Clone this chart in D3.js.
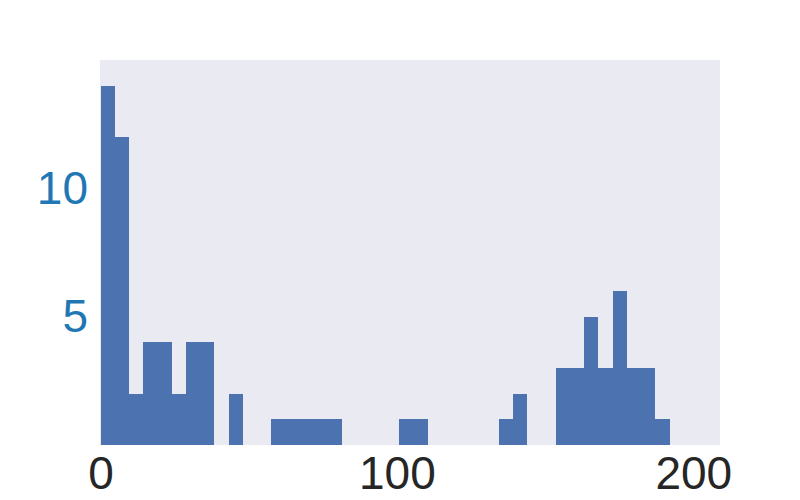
<!DOCTYPE html>
<html>
<head>
<meta charset="utf-8">
<script src="https://cdn.jsdelivr.net/npm/d3@7"></script>
<style>
  body { margin: 0; background: #fff; }
  svg { display: block; }
</style>
</head>
<body>
<div id="chart"></div>
<script>
// histogram bins (lower edges + last upper edge) and counts per bin
var binEdges = [0, 4.8, 9.6, 14.4, 19.2, 24, 28.8, 33.6, 38.4, 43.2, 48, 52.8, 57.6, 62.4,
    67.2, 72, 76.8, 81.6, 86.4, 91.2, 96, 100.8, 105.6, 110.4, 115.2, 120, 124.8, 129.6,
    134.4, 139.2, 144, 148.8, 153.6, 158.4, 163.2, 168, 172.8, 177.6, 182.4, 187.2, 192];
var binCounts = [14, 12, 2, 4, 4, 2, 4, 4, 0, 2, 0, 0, 1, 1, 1, 1, 1, 0, 0, 0,
    0, 1, 1, 0, 0, 0, 0, 0, 1, 2, 0, 0, 3, 3, 5, 3, 6, 3, 3, 1];
var xTicks = [0, 100, 200];
var yTicks = [5, 10];

var WIDTH = 800, HEIGHT = 500;
var LEFT = 100, RIGHT = 720, TOP = 60, BOTTOM = 445;

var bins = binCounts.map(function (c, i) {
    return { x0: binEdges[i], x1: binEdges[i + 1], count: c };
});

var svg = d3.select("#chart").append("svg")
    .attr("width", WIDTH)
    .attr("height", HEIGHT);

var x = d3.scaleLinear().domain([0, 209]).range([LEFT + 0.5, RIGHT]);
var y = d3.scaleLinear().domain([0, 15]).range([BOTTOM, TOP]);

svg.append("rect")
    .attr("x", LEFT)
    .attr("y", TOP)
    .attr("width", RIGHT - LEFT)
    .attr("height", BOTTOM - TOP)
    .attr("fill", "#eaeaf2");

svg.append("g").attr("id", "bars")
    .attr("shape-rendering", "crispEdges")
    .selectAll("rect")
    .data(bins.filter(function (d) { return d.count > 0; }))
    .enter().append("rect")
    .attr("x", function (d) { return Math.round(x(d.x0)); })
    .attr("y", function (d) { return Math.round(y(d.count)); })
    .attr("width", function (d) { return Math.round(x(d.x1)) - Math.round(x(d.x0)); })
    .attr("height", function (d) { return y(0) - Math.round(y(d.count)); })
    .attr("fill", "#4c72b0");

// axes: labels only, no tick marks or domain lines
var xAxis = svg.append("g")
    .attr("transform", "translate(0," + BOTTOM + ")")
    .call(d3.axisBottom(x).tickValues(xTicks).tickSize(0).tickPadding(0));
xAxis.select(".domain").remove();
xAxis.selectAll("text")
    .attr("y", 44)
    .attr("dy", 0)
    .attr("fill", "#262626")
    .style("font-family", "'Liberation Sans', Arial, sans-serif")
    .style("font-size", "46px");

var yAxis = svg.append("g")
    .attr("transform", "translate(" + LEFT + ",0)")
    .call(d3.axisLeft(y).tickValues(yTicks).tickSize(0).tickPadding(12));
yAxis.select(".domain").remove();
yAxis.selectAll("text")
    .attr("fill", "#1f77b4")
    .style("font-family", "'Liberation Sans', Arial, sans-serif")
    .style("font-size", "46px");
</script>
</body>
</html>
